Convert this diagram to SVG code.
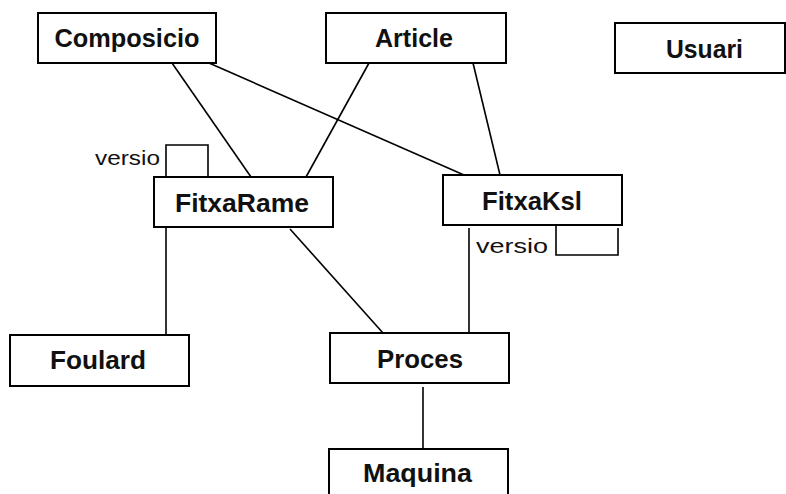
<svg xmlns="http://www.w3.org/2000/svg" width="786" height="494" viewBox="0 0 786 494">
<style>
.box{fill:#fff;stroke:#000;stroke-width:2}
.lbl{font-family:"Liberation Sans",Arial,sans-serif;font-weight:bold;font-size:25px;fill:#111;text-anchor:middle}
.role{font-family:"Liberation Sans",Arial,sans-serif;font-size:21px;fill:#111}
.ln{stroke:#000;stroke-width:1.6;fill:none}
</style>
<rect width="786" height="494" fill="#fff"/>
<g id="connectors">
<line class="ln" x1="172" y1="63" x2="251" y2="177"/>
<line class="ln" x1="209" y1="63" x2="464" y2="175"/>
<line class="ln" x1="369" y1="63" x2="306" y2="177"/>
<line class="ln" x1="473" y1="63" x2="500" y2="175"/>
<line class="ln" x1="166" y1="227" x2="166" y2="335"/>
<line class="ln" x1="290" y1="229" x2="383" y2="333"/>
<line class="ln" x1="469" y1="228" x2="469" y2="333"/>
<line class="ln" x1="423" y1="387" x2="423" y2="449"/>
<polyline class="ln" points="166,177 166,145 208,145 208,177"/>
<text class="role" x="95" y="165" textLength="65" lengthAdjust="spacingAndGlyphs">versio</text>
<polyline class="ln" points="556,226 556,255 618,255 618,228"/>
<text class="role" x="476" y="253" textLength="72" lengthAdjust="spacingAndGlyphs">versio</text>
</g>
<g id="Composicio"><rect class="box" x="38" y="13" width="178" height="50"/><text class="lbl" x="127" y="47" textLength="145" lengthAdjust="spacingAndGlyphs">Composicio</text></g>
<g id="Article"><rect class="box" x="326" y="13" width="180" height="50"/><text class="lbl" x="414" y="47" textLength="78" lengthAdjust="spacingAndGlyphs">Article</text></g>
<g id="Usuari"><rect class="box" x="615" y="23" width="170" height="50"/><text class="lbl" x="704.5" y="58" textLength="77" lengthAdjust="spacingAndGlyphs">Usuari</text></g>
<g id="FitxaRame"><rect class="box" x="154" y="177" width="179" height="50"/><text class="lbl" x="242" y="212" textLength="134" lengthAdjust="spacingAndGlyphs">FitxaRame</text></g>
<g id="FitxaKsl"><rect class="box" x="443" y="175" width="179" height="50"/><text class="lbl" x="532" y="210" textLength="100" lengthAdjust="spacingAndGlyphs">FitxaKsl</text></g>
<g id="Foulard"><rect class="box" x="10" y="335" width="179" height="51"/><text class="lbl" x="98" y="369" textLength="96" lengthAdjust="spacingAndGlyphs">Foulard</text></g>
<g id="Proces"><rect class="box" x="330" y="333" width="179" height="50"/><text class="lbl" x="420" y="368" textLength="86" lengthAdjust="spacingAndGlyphs">Proces</text></g>
<g id="Maquina"><rect class="box" x="329" y="449" width="179" height="50"/><text class="lbl" x="417.5" y="482" textLength="109" lengthAdjust="spacingAndGlyphs">Maquina</text></g>
</svg>
